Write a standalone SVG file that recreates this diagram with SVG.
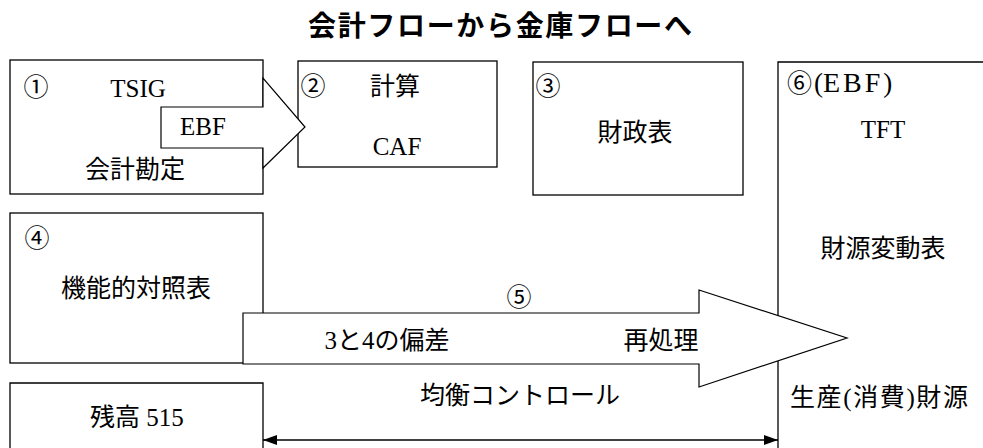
<svg xmlns="http://www.w3.org/2000/svg" width="983" height="448" viewBox="0 0 983 448">
<style>
.box{fill:#fff;stroke:#000;stroke-width:1.3}
.arr{fill:#fff;stroke:#000;stroke-width:1.2}
.t{font-family:"Liberation Serif","Noto Sans CJK JP",serif;font-size:25px;fill:#000}
.c{text-anchor:middle}
.title{font-family:"Noto Sans CJK JP","Liberation Sans",sans-serif;font-size:28px;font-weight:bold;fill:#000}
.line{stroke:#000;stroke-width:1.3;fill:none}
</style>
<defs>
<marker id="ah" viewBox="0 0 14 10" refX="14" refY="5" markerWidth="14" markerHeight="10" markerUnits="userSpaceOnUse" orient="auto-start-reverse">
<path d="M0,0 L14,5 L0,10 Z" fill="#000"/>
</marker>
</defs>
<rect width="983" height="448" fill="#fff"/>
<text class="title" x="308" y="36" textLength="384" lengthAdjust="spacing">会計フローから金庫フローへ</text>

<g id="node1">
<rect class="box" x="10" y="60" width="253" height="134"/>
<text class="t c" x="36" y="96">①</text>
<text class="t c" x="138" y="97" font-size="27">TSIG</text>
<text class="t c" x="135" y="178">会計勘定</text>
</g>
<g id="node2">
<rect class="box" x="298" y="61" width="199" height="106"/>
<text class="t c" x="313" y="95">②</text>
<text class="t c" x="395" y="95">計算</text>
<text class="t c" x="397" y="155" font-size="28">CAF</text>
</g>
<g id="node3">
<rect class="box" x="533" y="62" width="210" height="133"/>
<text class="t c" x="548" y="95">③</text>
<text class="t c" x="635" y="141">財政表</text>
</g>
<g id="node6">
<path class="line" d="M983,62 L778,62 L778,448"/>
<text class="t" x="787" y="92">⑥<tspan x="814" font-size="27">(</tspan><tspan font-size="28" letter-spacing="3">EBF</tspan><tspan font-size="27">)</tspan></text>
<text class="t c" x="883" y="138" font-size="28">TFT</text>
<text class="t c" x="883" y="257">財源変動表</text>
<text class="t" x="790" y="406" textLength="178" lengthAdjust="spacing">生産(消費)財源</text>
</g>
<g id="node4">
<rect class="box" x="10" y="213" width="253" height="150"/>
<text class="t c" x="37" y="247">④</text>
<text class="t c" x="136" y="297">機能的対照表</text>
</g>
<g id="node515">
<path class="line" d="M10,448 L10,383 L263,383 L263,448"/>
<text class="t c" x="137" y="426">残高 515</text>
</g>

<g id="connectors">
<polygon class="arr" points="161,107 263,107 263,78 305,127 263,168 263,148 161,148"/>
<text class="t c" x="203" y="135" font-size="28">EBF</text>
<polygon class="arr" points="243,313 699,313 699,290 847,338 699,387 699,364 243,364"/>
<text class="t c" x="519" y="306">⑤</text>
<text class="t c" x="387" y="349">3と4の偏差</text>
<text class="t c" x="661" y="349">再処理</text>
<line class="line" x1="263" y1="440" x2="778" y2="440" marker-start="url(#ah)" marker-end="url(#ah)"/>
<text class="t c" x="520" y="404">均衡コントロール</text>
</g>
</svg>
